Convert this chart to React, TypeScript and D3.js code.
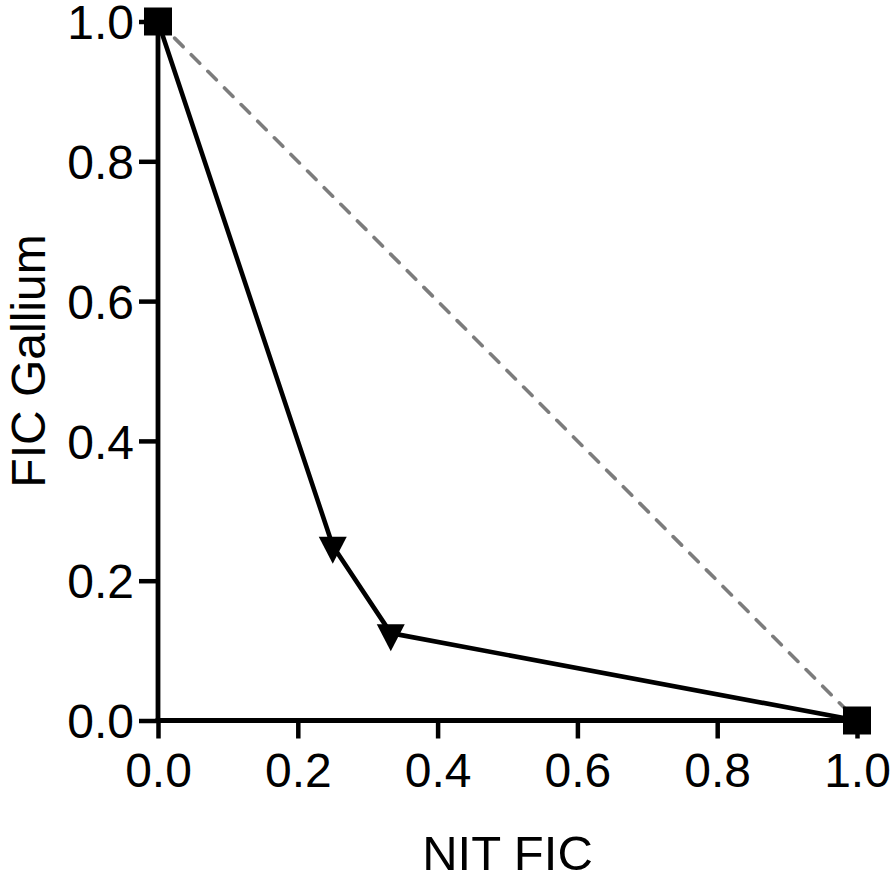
import { useEffect, useRef } from 'react';
import * as d3 from 'd3';

const nitFic = [0, 0.25, 0.333, 1];
const galliumFic = [1, 0.25, 0.125, 0];
const markerShapes = ['square', 'triangle', 'triangle', 'square'];
const additivityX = [0, 1];
const additivityY = [1, 0];
const tickValues = [0, 0.2, 0.4, 0.6, 0.8, 1.0];

const W = 894;
const H = 876;

export default function App() {
  const svgRef = useRef<SVGSVGElement>(null);

  useEffect(() => {
    if (!svgRef.current) return;
    const svg = d3.select(svgRef.current);
    svg.selectAll('*').remove();

    const x = d3.scaleLinear().domain([0, 1]).range([158, 857]);
    const y = d3.scaleLinear().domain([0, 1]).range([720.5, 21.5]);
    const font = 'Liberation Sans, Arial, Helvetica, sans-serif';

    // additivity line (dashed grey)
    const line = d3.line<[number, number]>().x(d => x(d[0])).y(d => y(d[1]));
    svg.append('path')
      .attr('d', line(additivityX.map((v, i) => [v, additivityY[i]]))!)
      .attr('fill', 'none')
      .attr('stroke', '#7c7c7c')
      .attr('stroke-width', 3.6)
      .attr('stroke-dasharray', '12 11.5')
      .attr('stroke-linecap', 'round');

    // axes
    const xAxis = svg.append('g')
      .attr('transform', `translate(0,${y(0)})`)
      .call(d3.axisBottom(x).tickValues(tickValues).tickFormat(d3.format('.1f')).tickSizeOuter(0).tickSizeInner(18).tickPadding(14));
    const yAxis = svg.append('g')
      .attr('transform', `translate(${x(0)},0)`)
      .call(d3.axisLeft(y).tickValues(tickValues).tickFormat(d3.format('.1f')).tickSizeOuter(0).tickSizeInner(19).tickPadding(5));

    [xAxis, yAxis].forEach(g => {
      g.select('.domain').attr('stroke', '#000').attr('stroke-width', 4.8);
      g.selectAll('.tick line').attr('stroke', '#000').attr('stroke-width', 4.5);
      g.selectAll('.tick text')
        .attr('fill', '#000')
        .style('font-family', font)
        .style('font-size', '48px');
    });
    xAxis.select('.domain').attr('d', `M${x(0) - 2.4},0H${x(1)}`);
    yAxis.select('.domain').attr('d', `M0,${y(0) + 2.4}V${y(1)}`);
    xAxis.selectAll('.tick text').attr('dy', '0.71em');
    yAxis.selectAll('.tick text').attr('dy', '0.36em');

    // combination curve
    svg.append('path')
      .attr('d', line(nitFic.map((v, i) => [v, galliumFic[i]]))!)
      .attr('fill', 'none')
      .attr('stroke', '#000')
      .attr('stroke-width', 4.6)
      .attr('stroke-linejoin', 'round');

    const sym = d3.symbol();
    svg.append('g')
      .selectAll('path')
      .data(nitFic.map((v, i) => ({ x: v, y: galliumFic[i], shape: markerShapes[i] })))
      .enter()
      .append('path')
      .attr('transform', d => `translate(${x(d.x)},${y(d.y)})`)
      .attr('d', d => {
        if (d.shape === 'square') return sym.type(d3.symbolSquare).size(28 * 28)()!;
        // downward triangle
        return 'M-14,-9L14,-9L0,18Z';
      })
      .attr('fill', '#000');

    // axis titles
    svg.append('text')
      .attr('x', (x(0) + x(1)) / 2)
      .attr('y', 870)
      .attr('text-anchor', 'middle')
      .style('font-family', font)
      .style('font-size', '49px')
      .text('NIT FIC');

    svg.append('text')
      .attr('transform', `translate(45,${(y(0) + y(1)) / 2 - 10}) rotate(-90)`)
      .attr('text-anchor', 'middle')
      .style('font-family', font)
      .style('font-size', '48px')
      .text('FIC Gallium');
  }, []);

  return (
    <svg
      ref={svgRef}
      width={W}
      height={H}
      style={{ position: 'absolute', left: 0, top: 0, background: '#fff' }}
    />
  );
}
